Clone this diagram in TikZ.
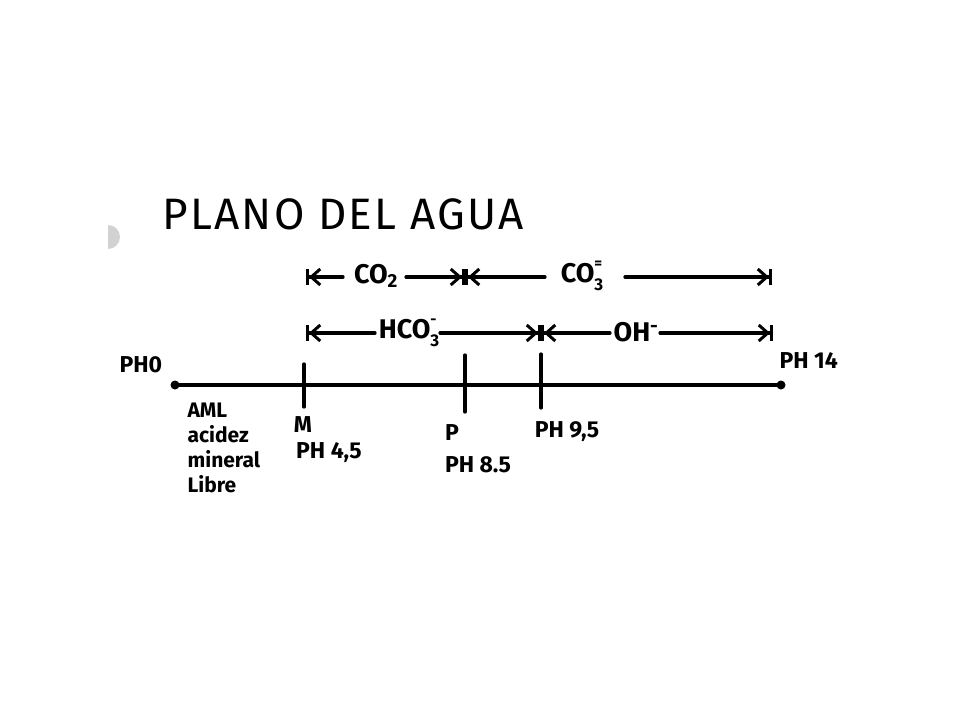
\documentclass[tikz,border=0pt]{standalone}
\usepackage{fontspec}
\setmainfont{Fira Sans}
\usetikzlibrary{arrows.meta}
\begin{document}
\begin{tikzpicture}[x=1pt,y=-1pt,line width=3.2pt,line cap=round,
  lbl/.style={font=\bfseries\fontsize{23}{25}\selectfont,inner sep=0pt},
  ion/.style={font=\bfseries\fontsize{27}{28}\selectfont,inner sep=0pt},
  ttl/.style={font=\addfontfeatures{LetterSpace=5}\fontsize{44}{46}\selectfont,inner sep=0pt},
  dot/.style={circle,fill=black,inner sep=0pt,minimum size=9pt},
  ltip/.style={{Bar[width=16pt,line width=3pt]Straight Barb[length=9pt,width=16pt,line width=3pt]}-},
  rtip/.style={-{Straight Barb[length=9pt,width=16pt,line width=3pt]Bar[width=16pt,line width=3pt]}}]
\useasboundingbox (0,0) rectangle (960,720);
\fill[white] (0,0) rectangle (960,720);
% scan artefact (hole punch)
\fill[gray!35] (108,249) arc (90:-90:12 and 12) -- cycle;
% title
\node[ttl] (title) at (343,214) {PLANO DEL AGUA};
% main axis
\node[dot] (p0) at (175,385) {};
\node[dot] (p14) at (781,385) {};
\draw (p0.center) -- (p14.center);
\coordinate (mT) at (304,364); \coordinate (mB) at (304,407);
\coordinate (pT) at (465,355); \coordinate (pB) at (465,412);
\coordinate (nT) at (541,354); \coordinate (nB) at (541,408);
\draw (mT) -- (mB);
\draw (pT) -- (pB);
\draw (nT) -- (nB);
% row 1
\node[ion] (co2) at (376,276) {CO\textsubscript{2}};
\node[ion] (co3) at (582,276) {CO\rlap{\raisebox{0.5em}{\fontsize{15}{15}\selectfont=}}\raisebox{-0.3em}{\fontsize{17}{17}\selectfont 3}};
\coordinate (a1) at (306,277); \coordinate (a1e) at (343,277);
\coordinate (b1) at (406,277); \coordinate (x1) at (465,277); \coordinate (c1) at (545,277);
\coordinate (d1) at (625,277); \coordinate (e1) at (772,277);
\draw[ltip] (a1) -- (a1e);
\draw[rtip] (b1) -- (x1);
\draw[ltip] (x1) -- (c1);
\draw[rtip] (d1) -- (e1);
% row 2
\node[ion] (hco3) at (409,333) {HCO\rlap{\raisebox{0.5em}{\fontsize{15}{15}\selectfont -}}\raisebox{-0.3em}{\fontsize{17}{17}\selectfont 3}};
\node[ion] (oh) at (636,332) {OH\textsuperscript{-}};
\coordinate (a2) at (306,333); \coordinate (a2e) at (375,333);
\coordinate (b2) at (440,333); \coordinate (x2) at (541,333); \coordinate (c2) at (610,333);
\coordinate (d2) at (660,333); \coordinate (e2) at (773,333);
\draw[ltip] (a2) -- (a2e);
\draw[rtip] (b2) -- (x2);
\draw[ltip] (x2) -- (c2);
\draw[rtip] (d2) -- (e2);
% labels
\node[lbl,anchor=west] (ph0) at (118,365) {PH0};
\node[lbl,anchor=west] (ph14) at (778,361) {PH 14};
\node[lbl,anchor=north west,align=left,font=\bfseries\fontsize{21}{25}\selectfont] (aml) at (186,401) {AML\\acidez\\mineral\\Libre};
\node[lbl] (m) at (303,425) {M};
\node[lbl] (ph45) at (329,453) {PH 4,5};
\node[lbl] (p) at (452,433) {P};
\node[lbl] (ph85) at (478,465) {PH 8.5};
\node[lbl] (ph95) at (567,432) {PH 9,5};
\end{tikzpicture}
\end{document}
